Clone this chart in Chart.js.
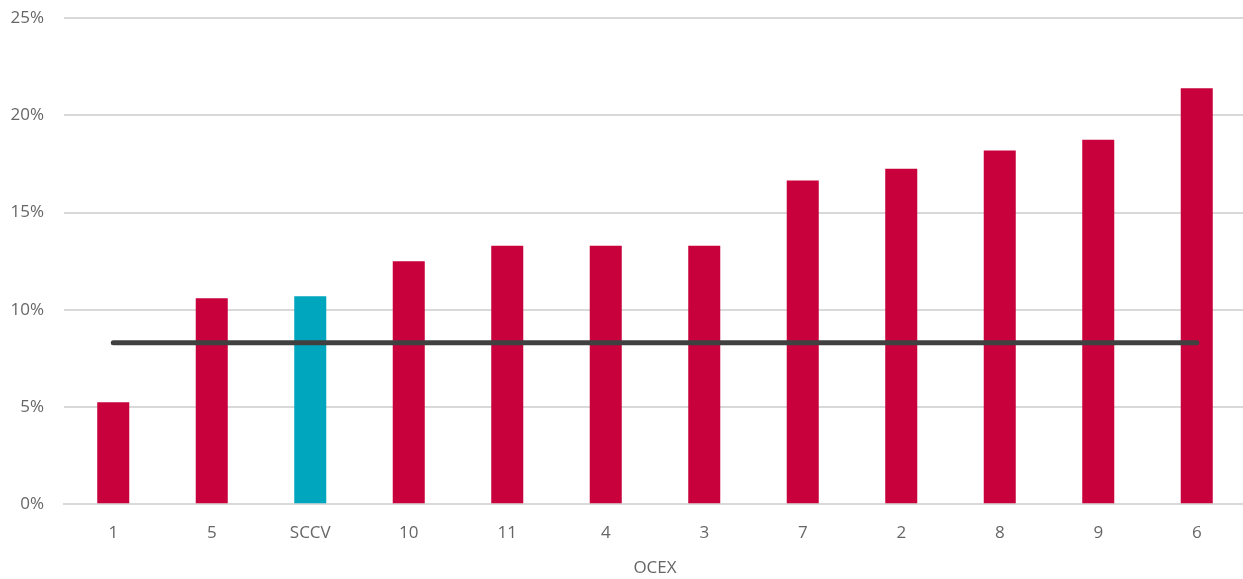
<!DOCTYPE html>
<html>
<head>
<meta charset="utf-8">
<script src="https://cdn.jsdelivr.net/npm/chart.js@4.4.1/dist/chart.umd.min.js"></script>
<style>
  html,body{margin:0;padding:0;background:#fff;}
  #wrap{width:1243px;height:579px;position:relative;overflow:hidden;}
  /* lienzo un poco más grande que el marco: recorta el margen superior y el borde derecho */
  #caja{position:absolute;left:0;top:-12px;width:1246px;height:590px;}
</style>
</head>
<body>
<div id="wrap"><div id="caja"><canvas id="ocex"></canvas></div></div>
<script>
// ── datos ──
const categorias = ['1','5','SCCV','10','11','4','3','7','2','8','9','6'];
const valores    = [5.25, 10.6, 10.7, 12.5, 13.3, 13.3, 13.3, 16.65, 17.25, 18.2, 18.75, 21.4];
const promedio   = [8.3, 8.3, 8.3, 8.3, 8.3, 8.3, 8.3, 8.3, 8.3, 8.3, 8.3, 8.3];
const ticksY     = [0, 5, 10, 15, 20, 25];

const ROJO='#C8003C', TEAL='#00A6BE', GRIS='#666666';
const colores = categorias.map(c => c==='SCCV' ? TEAL : ROJO);
const fuente = {family:'Open Sans',size:17};

new Chart(document.getElementById('ocex'), {
  data:{
    labels:categorias,
    datasets:[
      {type:'line',data:promedio,borderColor:'#404040',borderWidth:5,pointRadius:0,borderCapStyle:'round',order:0},
      {type:'bar',data:valores,backgroundColor:colores,barPercentage:0.65,categoryPercentage:0.5,order:1}
    ]
  },
  options:{
    responsive:true,maintainAspectRatio:false,animation:false,
    layout:{padding:0},
    plugins:{legend:{display:false},tooltip:{enabled:false}},
    scales:{
      x:{
        grid:{display:false},border:{display:true,color:'#D9D9D9',width:2},
        ticks:{color:GRIS,font:fuente,padding:11},
        title:{display:true,text:'OCEX',color:GRIS,font:fuente,padding:{top:3,bottom:0}}
      },
      y:{
        min:0,max:25,
        afterBuildTicks:s=>{s.ticks=ticksY.map(v=>({value:v}));},
        afterFit:s=>{s.width=64;},
        grid:{color:'#D9D9D9',lineWidth:2,drawTicks:false},border:{display:false},
        ticks:{color:GRIS,font:fuente,padding:20,callback:v=>v+'%'}
      }
    }
  }
});
</script>
</body>
</html>
